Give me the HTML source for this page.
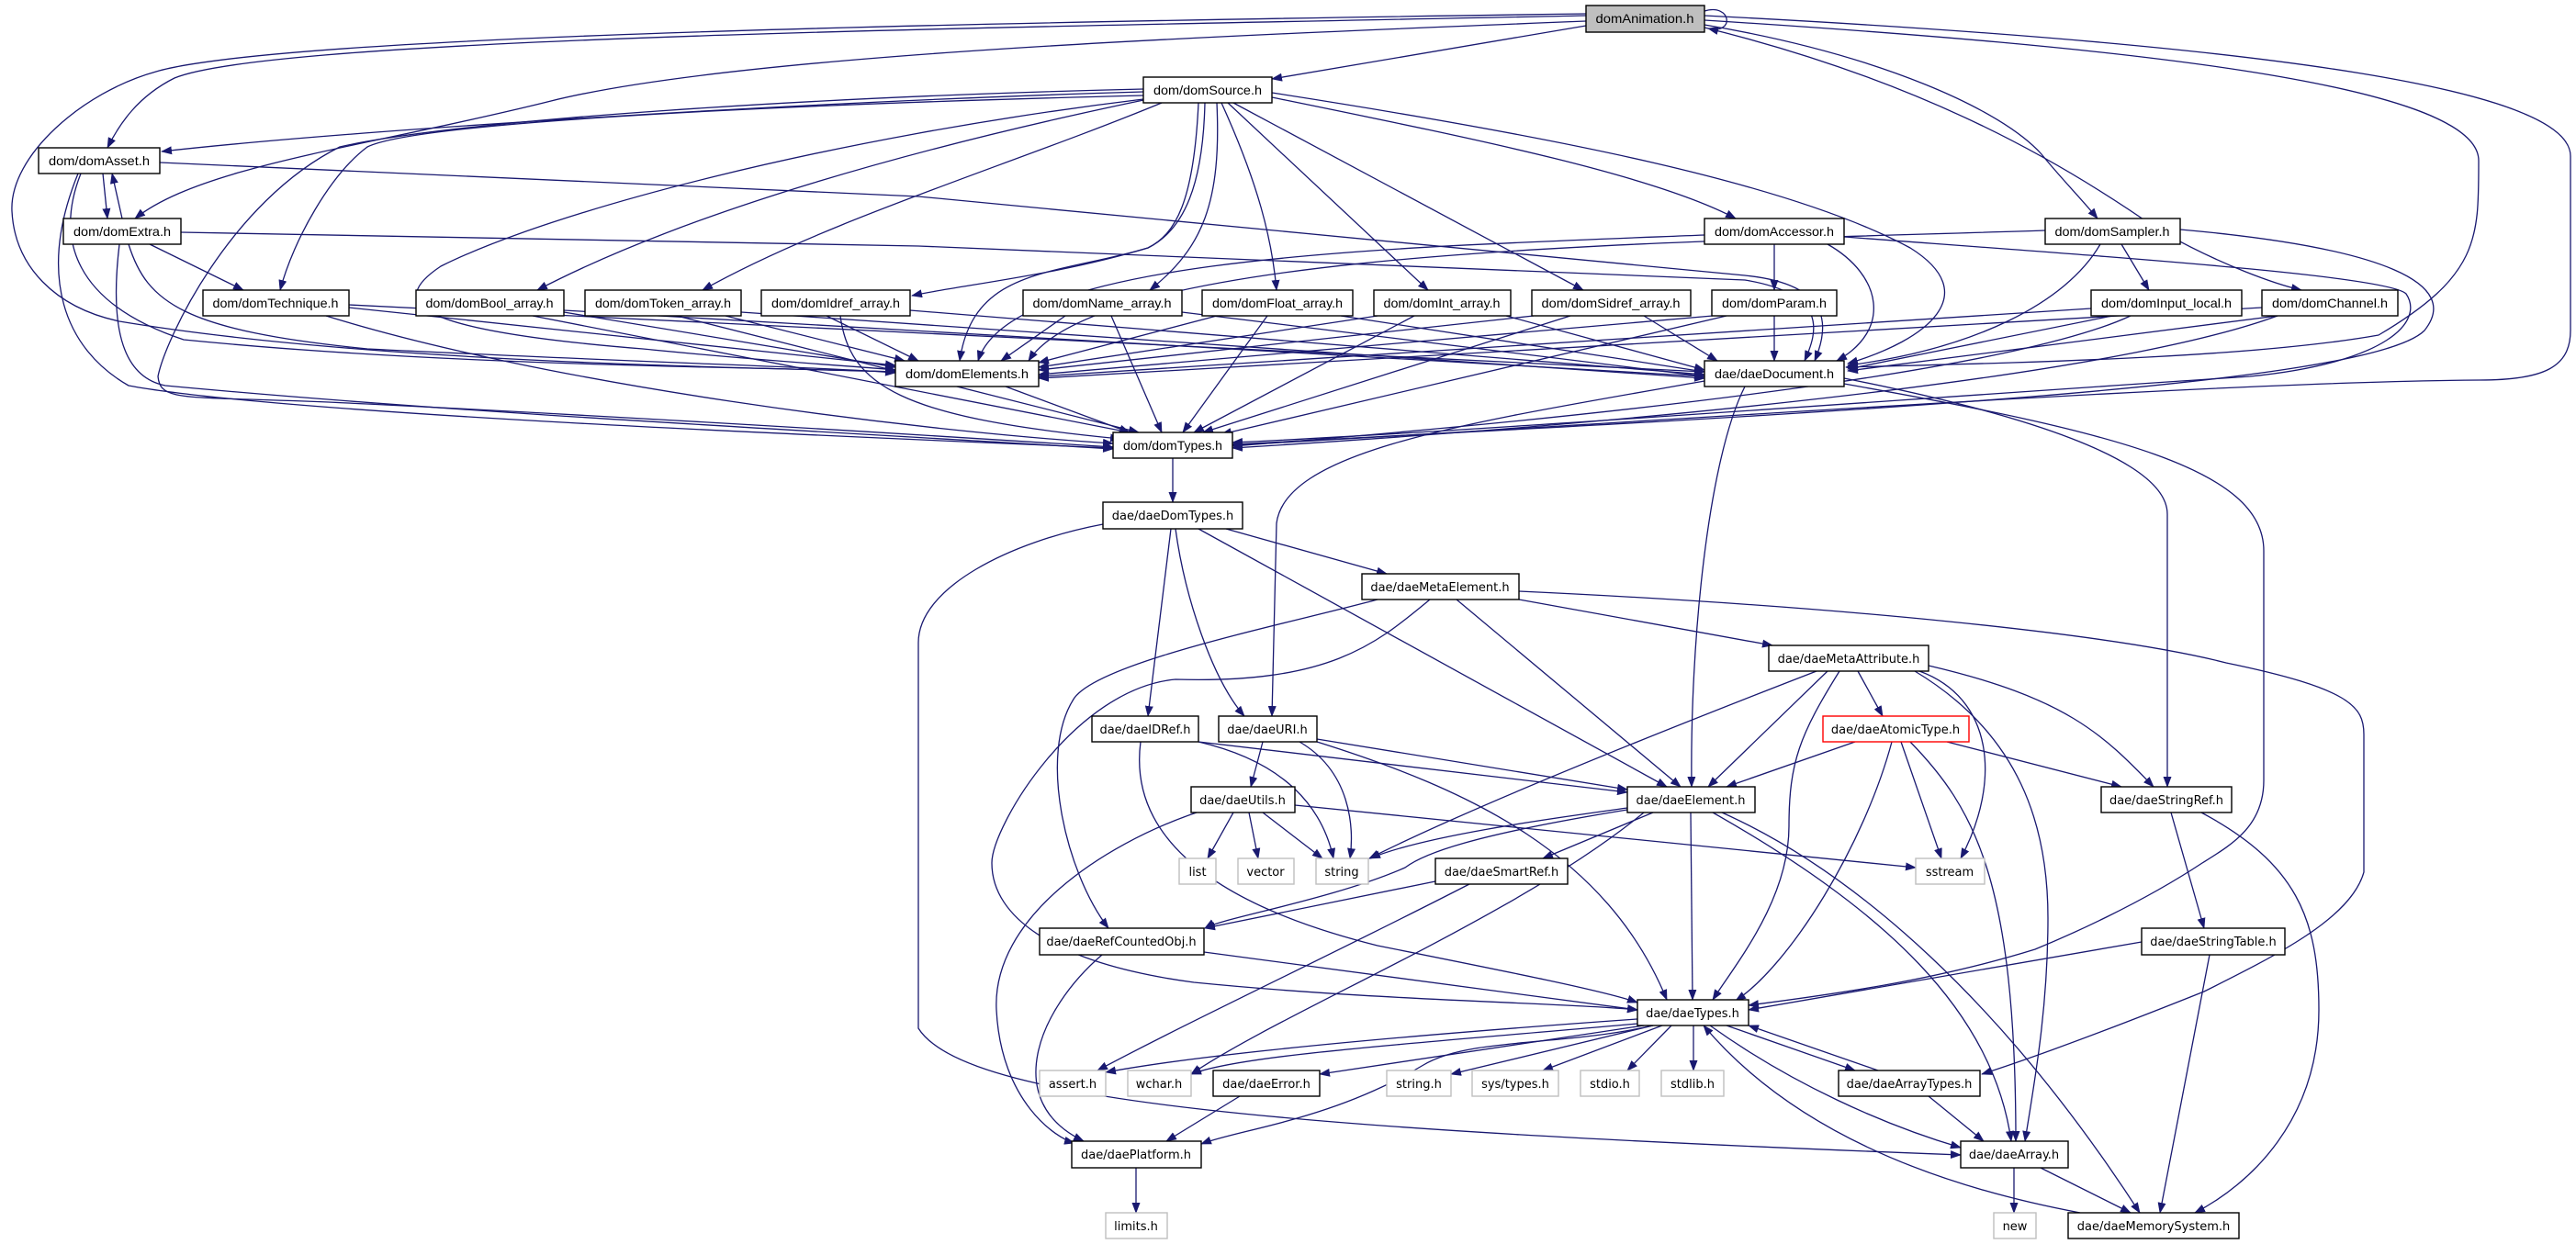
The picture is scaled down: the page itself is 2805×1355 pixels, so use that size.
<!DOCTYPE html>
<html><head><meta charset="utf-8"><style>
html,body{margin:0;padding:0;background:#fff;}
svg{display:block;}
.e{fill:none;stroke:#191970;stroke-width:1.3;marker-end:url(#a);}
.n{fill:#fff;stroke:#000;stroke-width:1.4;}
.g{fill:#fff;stroke:#bfbfbf;stroke-width:1.4;}
.t{font-family:"Liberation Sans",sans-serif;font-size:14px;fill:#000;text-anchor:middle;}
.b{font-family:"DejaVu Sans","Liberation Sans",sans-serif;font-size:13px;fill:#000;text-anchor:middle;}
</style></head><body>
<svg width="2805" height="1355" viewBox="0 0 2805 1355" xmlns="http://www.w3.org/2000/svg">
<defs><marker id="a" markerWidth="12" markerHeight="9" refX="11" refY="4.5" orient="auto" markerUnits="userSpaceOnUse"><path d="M0,0 L12,4.5 L0,9 z" fill="#191970"/></marker></defs>
<g>
<!-- domAnimation -->
<path class="e" d="M1856,12 C1885,3 1890,38 1860,31"/>
<path class="e" d="M1727,28 L1385,86"/>
<path class="e" d="M1727,17 C1100,30 300,40 190,85 C150,105 130,135 117,161"/>
<path class="e" d="M1727,23 C1300,40 800,60 600,110 C400,160 220,180 147,238"/>
<path class="e" d="M1727,15 C1000,25 300,40 170,78 C90,100 10,170 13,230 C16,290 60,335 130,350 C400,395 800,400 975,405"/>
<path class="e" d="M1856,27 C2050,60 2180,120 2223,168 C2245,195 2265,215 2284,238"/>
<path class="e" d="M1856,30 C2100,90 2250,180 2350,250 C2420,290 2480,310 2506,316"/>
<path class="e" d="M1856,22 C2300,50 2699,90 2699,175 C2699,260 2700,300 2590,365 C2450,390 2200,395 2010,400"/>
<path class="e" d="M1856,17 C2500,50 2799,100 2799,170 L2799,360 C2799,400 2770,414 2700,414 C2400,416 1800,460 1342,485"/>
<!-- domSource -->
<path class="e" d="M1245,100 C900,110 400,140 176,165"/>
<path class="e" d="M1245,104 C800,115 450,135 400,160 C360,190 320,260 305,316"/>
<path class="e" d="M1312,112 C1310,200 1290,250 1250,270 C1150,300 1060,290 1045,393"/>
<path class="e" d="M1305,112 C1300,220 1280,255 1250,270 C1150,300 1050,310 993,322"/>
<path class="e" d="M1325,112 C1330,220 1310,270 1252,316"/>
<path class="e" d="M1330,112 C1370,200 1385,260 1390,316"/>
<path class="e" d="M1337,112 L1555,316"/>
<path class="e" d="M1343,112 L1724,316"/>
<path class="e" d="M1385,106 C1600,150 1800,190 1890,238"/>
<path class="e" d="M1385,101 C1700,150 1950,200 2080,270 C2160,320 2100,370 2012,396"/>
<path class="e" d="M1250,108 C1000,160 750,230 585,316"/>
<path class="e" d="M1265,112 C1100,180 900,240 765,316"/>
<path class="e" d="M1245,108 C900,150 600,230 480,290 C420,330 450,360 700,380 C850,395 950,400 975,403"/>
<path class="e" d="M1245,97 C900,105 500,130 370,160 C250,220 180,370 172,410 C175,440 200,430 400,440 C800,460 1100,480 1212,487"/>
<!-- domAsset / domExtra -->
<path class="e" d="M112,189 L117,238"/>
<path class="e" d="M133,238 L122,189"/>
<path class="e" d="M174,177 L1000,214 L1900,300 C2000,310 1990,360 1976,393"/>
<path class="e" d="M88,189 C60,260 80,330 200,370 C500,400 850,400 975,405"/>
<path class="e" d="M85,189 C40,300 70,380 140,420 C300,450 900,475 1212,488"/>
<path class="e" d="M163,266 L265,316"/>
<path class="e" d="M197,253 L1000,268 L1900,305 C1990,320 1980,360 1965,393"/>
<path class="e" d="M140,266 C160,330 200,360 400,380 C700,395 900,400 975,406"/>
<path class="e" d="M130,266 C120,350 130,410 180,420 C500,450 900,470 1212,489"/>
<!-- domTechnique -->
<path class="e" d="M380,335 L975,398"/>
<path class="e" d="M380,332 L1856,405"/>
<path class="e" d="M355,344 C600,420 1000,470 1212,483"/>
<!-- arrays -->
<path class="e" d="M614,340 L975,400"/><path class="e" d="M614,338 L1856,410"/><path class="e" d="M580,344 L1230,471"/>
<path class="e" d="M790,344 L985,393"/><path class="e" d="M807,340 L1856,412"/><path class="e" d="M737,344 L1240,471"/>
<path class="e" d="M900,344 L1000,393"/><path class="e" d="M915,344 C925,420 980,455 1220,478"/><path class="e" d="M991,338 L1856,408"/>
<path class="e" d="M1160,344 L1090,393"/><path class="e" d="M1210,344 L1265,471"/><path class="e" d="M1287,340 L1856,410"/>
<path class="e" d="M1325,344 L1131,395"/><path class="e" d="M1380,344 L1288,471"/><path class="e" d="M1460,344 L1856,405"/>
<path class="e" d="M1500,344 L1131,400"/><path class="e" d="M1540,344 L1300,471"/><path class="e" d="M1640,344 L1856,403"/>
<path class="e" d="M1670,344 L1131,403"/><path class="e" d="M1710,344 L1310,471"/><path class="e" d="M1790,344 L1870,393"/>
<path class="e" d="M1932,344 L1932,393"/><path class="e" d="M1865,344 L1131,408"/><path class="e" d="M1880,344 L1330,473"/>
<!-- accessor / sampler / input / channel -->
<path class="e" d="M1932,266 L1932,316"/>
<path class="e" d="M1856,256 C1500,270 1100,280 1065,393"/>
<path class="e" d="M1990,266 C2050,300 2060,360 2000,393"/>
<path class="e" d="M2008,258 C2300,280 2600,300 2620,320 C2640,350 2600,395 2450,410 C2000,440 1600,470 1342,482"/>
<path class="e" d="M2310,266 L2340,316"/>
<path class="e" d="M2287,266 C2250,330 2150,380 2012,398"/>
<path class="e" d="M2227,251 C1800,265 1200,270 1120,393"/>
<path class="e" d="M2374,250 C2600,270 2680,310 2640,360 C2580,420 2000,450 1342,484"/>
<path class="e" d="M2300,344 L2012,402"/>
<path class="e" d="M2277,336 L1131,410"/>
<path class="e" d="M2320,344 C2200,400 1800,450 1342,486"/>
<path class="e" d="M2480,344 L2012,404"/>
<path class="e" d="M2463,335 L1131,412"/>
<path class="e" d="M2480,344 C2300,410 1800,460 1342,488"/>
<path class="e" d="M1095,421 L1230,471"/>
<!-- daeDocument -->
<path class="e" d="M1900,421 C1860,500 1840,700 1842,857"/>
<path class="e" d="M1856,415 C1600,460 1400,490 1390,570 L1385,780"/>
<path class="e" d="M2008,412 C2200,450 2360,500 2360,560 L2360,857"/>
<path class="e" d="M2008,418 C2300,470 2465,510 2465,600 L2465,850 C2465,900 2430,920 2398,940 C2330,985 2250,1020 2216,1034 C2100,1070 1980,1085 1904,1095"/>
<!-- daeDomTypes -->
<path class="e" d="M1277,499 L1277,547"/>
<path class="e" d="M1335,576 L1510,625"/>
<path class="e" d="M1275,576 L1250,780"/>
<path class="e" d="M1280,576 C1290,650 1320,740 1355,780"/>
<path class="e" d="M1305,576 L1815,857"/>
<path class="e" d="M1201,571 C1100,590 1000,640 1000,700 L1000,1120 C1050,1200 1400,1230 2135,1258"/>
<!-- daeMetaElement -->
<path class="e" d="M1654,653 L1930,703"/>
<path class="e" d="M1654,644 C2000,660 2300,690 2424,722 C2560,750 2574,770 2574,800 L2574,950 C2560,1000 2480,1040 2400,1080 C2300,1120 2220,1150 2158,1170"/>
<path class="e" d="M1586,653 L1830,857"/>
<path class="e" d="M1500,653 C1400,680 1200,720 1170,760 C1130,820 1160,950 1207,1011"/>
<path class="e" d="M1557,653 C1500,700 1450,745 1280,740 C1170,750 1080,900 1080,940 C1080,1000 1150,1050 1300,1070 C1500,1090 1700,1092 1783,1100"/>
<!-- daeMetaAttribute -->
<path class="e" d="M2023,731 L2050,780"/>
<path class="e" d="M1990,731 L1860,857"/>
<path class="e" d="M1978,731 C1800,800 1600,880 1491,935"/>
<path class="e" d="M2003,731 C1960,800 1948,830 1948,900 C1948,980 1890,1050 1865,1089"/>
<path class="e" d="M2085,731 C2200,800 2230,900 2230,1000 C2230,1100 2215,1180 2205,1243"/>
<path class="e" d="M2090,731 C2170,760 2180,850 2135,935"/>
<path class="e" d="M2100,725 C2250,760 2290,800 2345,857"/>
<!-- daeAtomicType -->
<path class="e" d="M2020,808 L1880,857"/>
<path class="e" d="M2060,808 C2030,920 1950,1050 1890,1090"/>
<path class="e" d="M2070,808 L2114,935"/>
<path class="e" d="M2080,808 C2150,880 2195,960 2195,1243"/>
<path class="e" d="M2120,808 L2310,857"/>
<!-- daeIDRef / daeURI / daeUtils -->
<path class="e" d="M1305,808 L1772,863"/>
<path class="e" d="M1305,808 C1400,830 1440,880 1452,935"/>
<path class="e" d="M1242,808 C1230,900 1300,980 1500,1030 C1650,1060 1750,1080 1783,1092"/>
<path class="e" d="M1375,808 L1362,857"/>
<path class="e" d="M1415,808 C1470,840 1475,900 1470,935"/>
<path class="e" d="M1434,805 L1772,860"/>
<path class="e" d="M1434,808 C1600,860 1750,930 1815,1089"/>
<path class="e" d="M1343,885 L1315,935"/>
<path class="e" d="M1360,885 L1370,935"/>
<path class="e" d="M1375,885 L1440,935"/>
<path class="e" d="M1410,877 L2086,945"/>
<path class="e" d="M1303,885 C1200,920 1080,1000 1085,1100 C1090,1200 1150,1240 1170,1245"/>
<!-- daeElement -->
<path class="e" d="M1772,880 C1700,890 1550,910 1492,935"/>
<path class="e" d="M1772,882 C1600,910 1550,930 1530,945 C1450,980 1330,1000 1312,1011"/>
<path class="e" d="M1800,885 L1680,935"/>
<path class="e" d="M1841,885 L1843,1089"/>
<path class="e" d="M1790,885 C1650,1000 1400,1100 1297,1170"/>
<path class="e" d="M1865,885 C2050,990 2170,1100 2190,1243"/>
<path class="e" d="M1875,885 C2020,950 2180,1090 2330,1321"/>
<path class="e" d="M1563,960 L1312,1011"/>
<path class="e" d="M1600,963 C1450,1040 1300,1110 1195,1166"/>
<path class="e" d="M1311,1037 L1783,1100"/>
<path class="e" d="M1200,1040 C1130,1100 1090,1200 1180,1243"/>
<path class="e" d="M2364,885 L2400,1011"/>
<path class="e" d="M2397,885 C2500,940 2525,1000 2525,1100 C2525,1220 2450,1290 2390,1321"/>
<path class="e" d="M2332,1026 L1904,1100"/>
<path class="e" d="M2406,1040 L2352,1321"/>
<!-- daeTypes -->
<path class="e" d="M1783,1110 C1500,1130 1300,1150 1204,1168"/>
<path class="e" d="M1783,1115 C1500,1140 1350,1150 1297,1170"/>
<path class="e" d="M1790,1117 L1437,1170"/>
<path class="e" d="M1800,1117 L1580,1170"/>
<path class="e" d="M1810,1117 L1680,1166"/>
<path class="e" d="M1820,1117 L1772,1166"/>
<path class="e" d="M1844,1117 L1844,1166"/>
<path class="e" d="M1880,1117 L2020,1166"/>
<path class="e" d="M2045,1166 L1904,1117"/>
<path class="e" d="M1862,1117 C1950,1180 2050,1225 2135,1250"/>
<path class="e" d="M1800,1117 C1700,1140 1600,1130 1550,1160 C1450,1220 1350,1230 1308,1246"/>
<path class="e" d="M2100,1194 L2160,1243"/>
<path class="e" d="M2193,1272 L2193,1321"/>
<path class="e" d="M2222,1272 L2320,1321"/>
<path class="e" d="M2265,1321 C2100,1290 1950,1230 1855,1117"/>
<path class="e" d="M1350,1194 L1270,1243"/>
<path class="e" d="M1237,1272 L1237,1321"/>
</g>
<g>
<rect x="1727" y="6" width="129" height="29" fill="#bfbfbf" stroke="#000" stroke-width="1.4"/><text class="t" x="1791" y="25" textLength="107" lengthAdjust="spacingAndGlyphs">domAnimation.h</text>
<rect class="n" x="1245" y="84" width="140" height="28"/><text class="t" x="1315" y="103" textLength="118" lengthAdjust="spacingAndGlyphs">dom/domSource.h</text>
<rect class="n" x="42" y="161" width="132" height="28"/><text class="t" x="108" y="180" textLength="110" lengthAdjust="spacingAndGlyphs">dom/domAsset.h</text>
<rect class="n" x="69" y="238" width="128" height="28"/><text class="t" x="133" y="257" textLength="106" lengthAdjust="spacingAndGlyphs">dom/domExtra.h</text>
<rect class="n" x="1856" y="238" width="152" height="28"/><text class="t" x="1932" y="257" textLength="130" lengthAdjust="spacingAndGlyphs">dom/domAccessor.h</text>
<rect class="n" x="2227" y="238" width="147" height="28"/><text class="t" x="2300" y="257" textLength="125" lengthAdjust="spacingAndGlyphs">dom/domSampler.h</text>
<rect class="n" x="221" y="316" width="159" height="28"/><text class="t" x="300" y="335" textLength="137" lengthAdjust="spacingAndGlyphs">dom/domTechnique.h</text>
<rect class="n" x="453" y="316" width="161" height="28"/><text class="t" x="533" y="335" textLength="139" lengthAdjust="spacingAndGlyphs">dom/domBool_array.h</text>
<rect class="n" x="637" y="316" width="170" height="28"/><text class="t" x="722" y="335" textLength="148" lengthAdjust="spacingAndGlyphs">dom/domToken_array.h</text>
<rect class="n" x="829" y="316" width="162" height="28"/><text class="t" x="910" y="335" textLength="140" lengthAdjust="spacingAndGlyphs">dom/domIdref_array.h</text>
<rect class="n" x="1114" y="316" width="173" height="28"/><text class="t" x="1200" y="335" textLength="151" lengthAdjust="spacingAndGlyphs">dom/domName_array.h</text>
<rect class="n" x="1309" y="316" width="164" height="28"/><text class="t" x="1391" y="335" textLength="142" lengthAdjust="spacingAndGlyphs">dom/domFloat_array.h</text>
<rect class="n" x="1496" y="316" width="149" height="28"/><text class="t" x="1570" y="335" textLength="127" lengthAdjust="spacingAndGlyphs">dom/domInt_array.h</text>
<rect class="n" x="1668" y="316" width="173" height="28"/><text class="t" x="1754" y="335" textLength="151" lengthAdjust="spacingAndGlyphs">dom/domSidref_array.h</text>
<rect class="n" x="1864" y="316" width="136" height="28"/><text class="t" x="1932" y="335" textLength="114" lengthAdjust="spacingAndGlyphs">dom/domParam.h</text>
<rect class="n" x="2277" y="316" width="164" height="28"/><text class="t" x="2359" y="335" textLength="142" lengthAdjust="spacingAndGlyphs">dom/domInput_local.h</text>
<rect class="n" x="2463" y="316" width="148" height="28"/><text class="t" x="2537" y="335" textLength="126" lengthAdjust="spacingAndGlyphs">dom/domChannel.h</text>
<rect class="n" x="975" y="393" width="156" height="28"/><text class="t" x="1053" y="412" textLength="134" lengthAdjust="spacingAndGlyphs">dom/domElements.h</text>
<rect class="n" x="1856" y="393" width="152" height="28"/><text class="t" x="1932" y="412" textLength="130" lengthAdjust="spacingAndGlyphs">dae/daeDocument.h</text>
<rect class="n" x="1212" y="471" width="130" height="28"/><text class="t" x="1277" y="490" textLength="108" lengthAdjust="spacingAndGlyphs">dom/domTypes.h</text>

<rect class="n" x="1201" y="547" width="152" height="29"/><text class="b" x="1277" y="566">dae/daeDomTypes.h</text>
<rect class="n" x="1483" y="625" width="171" height="28"/><text class="b" x="1568" y="644">dae/daeMetaElement.h</text>
<rect class="n" x="1926" y="703" width="174" height="28"/><text class="b" x="2013" y="722">dae/daeMetaAttribute.h</text>
<rect class="n" x="1189" y="780" width="116" height="28"/><text class="b" x="1247" y="799">dae/daeIDRef.h</text>
<rect class="n" x="1327" y="780" width="107" height="28"/><text class="b" x="1380" y="799">dae/daeURI.h</text>
<rect x="1985" y="780" width="159" height="28" fill="#fff" stroke="#ff0000" stroke-width="1.4"/><text class="b" x="2064" y="799">dae/daeAtomicType.h</text>
<rect class="n" x="1297" y="857" width="113" height="28"/><text class="b" x="1353" y="876">dae/daeUtils.h</text>
<rect class="n" x="1772" y="857" width="139" height="28"/><text class="b" x="1841" y="876">dae/daeElement.h</text>
<rect class="n" x="2288" y="857" width="142" height="28"/><text class="b" x="2359" y="876">dae/daeStringRef.h</text>
<rect class="g" x="1284" y="935" width="40" height="28"/><text class="b" x="1304" y="954">list</text>
<rect class="g" x="1348" y="935" width="61" height="28"/><text class="b" x="1378" y="954">vector</text>
<rect class="g" x="1433" y="935" width="57" height="28"/><text class="b" x="1461" y="954">string</text>
<rect class="n" x="1563" y="935" width="144" height="28"/><text class="b" x="1635" y="954">dae/daeSmartRef.h</text>
<rect class="g" x="2086" y="935" width="75" height="28"/><text class="b" x="2123" y="954">sstream</text>
<rect class="n" x="1132" y="1011" width="179" height="29"/><text class="b" x="1221" y="1030">dae/daeRefCountedObj.h</text>
<rect class="n" x="2332" y="1011" width="156" height="29"/><text class="b" x="2410" y="1030">dae/daeStringTable.h</text>
<rect class="n" x="1783" y="1089" width="121" height="28"/><text class="b" x="1843" y="1108">dae/daeTypes.h</text>
<rect class="g" x="1132" y="1166" width="72" height="28"/><text class="b" x="1168" y="1185">assert.h</text>
<rect class="g" x="1228" y="1166" width="69" height="28"/><text class="b" x="1262" y="1185">wchar.h</text>
<rect class="n" x="1321" y="1166" width="116" height="28"/><text class="b" x="1379" y="1185">dae/daeError.h</text>
<rect class="g" x="1510" y="1166" width="70" height="28"/><text class="b" x="1545" y="1185">string.h</text>
<rect class="g" x="1603" y="1166" width="94" height="28"/><text class="b" x="1650" y="1185">sys/types.h</text>
<rect class="g" x="1721" y="1166" width="64" height="28"/><text class="b" x="1753" y="1185">stdio.h</text>
<rect class="g" x="1809" y="1166" width="68" height="28"/><text class="b" x="1843" y="1185">stdlib.h</text>
<rect class="n" x="2002" y="1166" width="154" height="28"/><text class="b" x="2079" y="1185">dae/daeArrayTypes.h</text>
<rect class="n" x="1167" y="1243" width="141" height="29"/><text class="b" x="1237" y="1262">dae/daePlatform.h</text>
<rect class="n" x="2135" y="1243" width="117" height="29"/><text class="b" x="2193" y="1262">dae/daeArray.h</text>
<rect class="g" x="1204" y="1321" width="67" height="28"/><text class="b" x="1237" y="1340">limits.h</text>
<rect class="g" x="2171" y="1321" width="46" height="28"/><text class="b" x="2194" y="1340">new</text>
<rect class="n" x="2252" y="1321" width="186" height="28"/><text class="b" x="2345" y="1340">dae/daeMemorySystem.h</text>
</g>
</svg>
</body></html>
